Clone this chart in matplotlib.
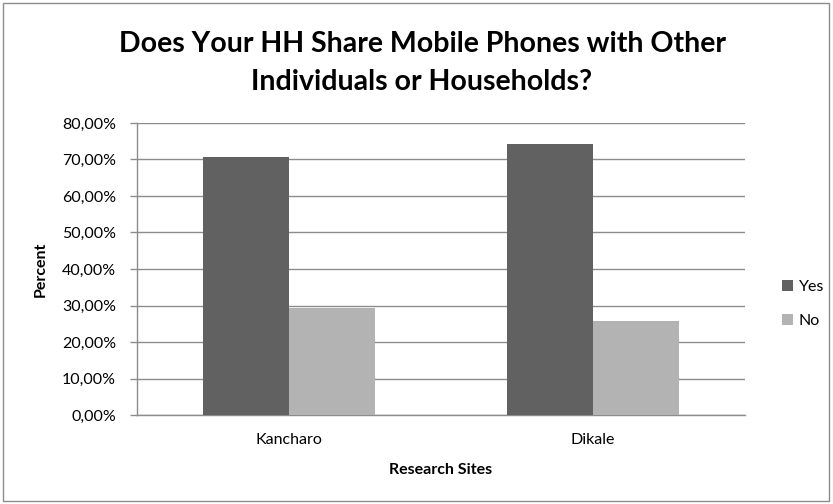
import matplotlib
matplotlib.use("Agg")
import matplotlib.pyplot as plt
import numpy as np
from matplotlib.ticker import FuncFormatter, MultipleLocator
from matplotlib.patches import Rectangle

categories = ["Kancharo", "Dikale"]
yes_values = [70.8, 74.2]
no_values = [29.2, 25.8]
series_names = ["Yes", "No"]
colors = ["#616161", "#b3b3b3"]
title_lines = ["Does Your HH Share Mobile Phones with Other", "Individuals or Households?"]

plt.rcParams['font.family'] = ['Lato', 'DejaVu Sans']

W, H = 833, 504
fig = plt.figure(figsize=(W/100, H/100), dpi=100)
ax = fig.add_axes([137/W, 1-415/H, 608/W, 292/H])

x = np.arange(len(categories))
w = 0.284
ax.bar(x - w/2, yes_values, w, color=colors[0], label=series_names[0], zorder=3)
ax.bar(x + w/2, no_values, w, color=colors[1], label=series_names[1], zorder=3)

ax.set_xlim(-0.5, len(categories) - 0.5)
ax.set_ylim(0, 80)
ax.yaxis.set_major_locator(MultipleLocator(10))
ax.yaxis.set_major_formatter(FuncFormatter(lambda v, p: f"{v:.2f}".replace(".", ",") + "%"))
ax.grid(axis='y', color='#8c8c8c', linewidth=1.0, zorder=0)
ax.set_axisbelow(True)

for s in ['top', 'right']:
    ax.spines[s].set_visible(False)
for s in ['left', 'bottom']:
    ax.spines[s].set_color('#8c8c8c')
    ax.spines[s].set_linewidth(1.0)

ax.set_xticks(x)
ax.set_xticklabels(categories)
ax.tick_params(axis='x', length=0, pad=13, labelsize=11.5, colors='black')
ax.tick_params(axis='y', length=5, width=1, color='#8c8c8c', pad=10, labelsize=11.5, colors='black')

ax.set_xlabel("Research Sites", fontsize=11.5, fontweight='bold')
ax.xaxis.set_label_coords(0.5, (415 - 463) / 292)
ax.set_ylabel("Percent", fontsize=11.5, fontweight='bold')
ax.yaxis.set_label_coords((48 - 137) / 608, 0.5)

fig.text(422/W, 1 - 52/H, title_lines[0], fontsize=20.5, fontweight='bold',
         ha='center', va='baseline')
fig.text(422/W, 1 - 90/H, title_lines[1], fontsize=20.5, fontweight='bold',
         ha='center', va='baseline')

leg = ax.legend(loc='center left', bbox_to_anchor=(774/W, 1 - 304/H),
                bbox_transform=fig.transFigure, frameon=False, borderpad=0,
                fontsize=11.5, handlelength=0.7, handleheight=0.7, handletextpad=0.35,
                labelspacing=1.25)

fig.patches.append(Rectangle((3/W, 3/H), 826/W, 498/H, transform=fig.transFigure,
                             fill=False, edgecolor='#8c8c8c', linewidth=1.0))

fig.savefig("out.png", dpi=100)
